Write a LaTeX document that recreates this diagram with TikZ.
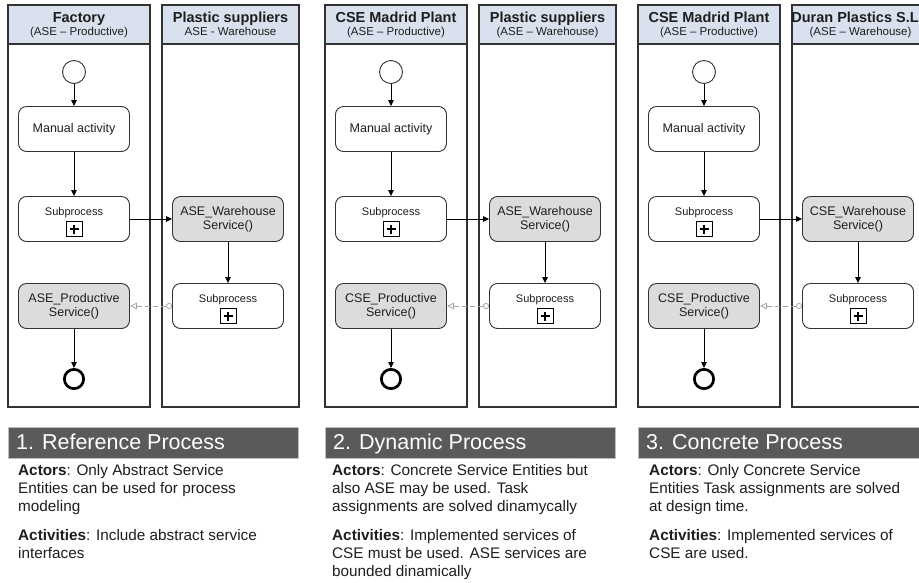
\documentclass[tikz,border=0pt]{standalone}
\usepackage{fontspec}
\setmainfont{Liberation Sans}
\usetikzlibrary{arrows.meta}
\definecolor{hdrc}{HTML}{D9E0EE}
\definecolor{svcc}{HTML}{DCDCDC}
\definecolor{bandc}{HTML}{5A5A5A}
\definecolor{msgc}{HTML}{A5A5A5}
\definecolor{txtc}{HTML}{1E1E1E}
\definecolor{linec}{HTML}{333333}
\tikzset{
  lanebox/.style={draw=linec, line width=1.1pt},
  hdtitle/.style={anchor=base, inner sep=0pt, font=\fontsize{14.5}{16}\selectfont\bfseries, text=txtc},
  hdsub/.style={anchor=base, inner sep=0pt, font=\fontsize{11.5}{13}\selectfont, text=txtc},
  task/.style={draw=linec, rounded corners=8pt, minimum width=111pt, minimum height=45pt,
    line width=0.9pt, align=center, inner sep=0pt, font=\fontsize{12.5}{14}\selectfont, text=txtc, fill=white},
  svctask/.style={task, fill=svcc},
  startev/.style={circle, draw=linec, minimum size=23pt, inner sep=0pt, line width=0.9pt, fill=white},
  endev/.style={circle, draw=black, minimum size=19.3pt, inner sep=0pt, line width=2.7pt},
  sublbl/.style={anchor=base, inner sep=0pt, font=\fontsize{11}{12}\selectfont, text=txtc},
  plusbox/.style={draw=black, line width=0.8pt, minimum width=16pt, minimum height=15pt, inner sep=0pt},
  flow/.style={draw=black, line width=0.8pt, -{Triangle[length=6pt,width=5.5pt]}},
  msgflow/.style={draw=msgc, line width=0.8pt, dash pattern=on 5pt off 3pt,
    {Circle[open,length=6pt,width=6pt]}-{Triangle[open,length=7pt,width=6.5pt]}},
  bandtxt/.style={anchor=base west, inner sep=0pt, text=white, font=\fontsize{21.5}{24}\selectfont},
  bodytxt/.style={anchor=north west, inner sep=0pt, align=left, text=txtc, font=\fontsize{15.3}{17.8}\selectfont},
}
\newcommand\plusmark[1]{%
  \draw[line width=1.6pt] ([xshift=-4.5pt]#1.center) -- ([xshift=4.5pt]#1.center);
  \draw[line width=1.6pt] ([yshift=-4.5pt]#1.center) -- ([yshift=4.5pt]#1.center);}
\newcommand\mypanel[9]{%
 \begin{scope}[xshift=#1pt]
  \fill[hdrc] (8,5) rectangle (150,44);
  \fill[hdrc] (162,5) rectangle (299,44);
  \draw[lanebox] (8,5) rectangle (150,407);
  \draw[lanebox] (8,44) -- (150,44);
  \draw[lanebox] (162,5) rectangle (299,407);
  \draw[lanebox] (162,44) -- (299,44);
  \node[hdtitle] (ht#2a) at (79,22) {#3};
  \node[hdsub] (hs#2a) at (79,35) {#4};
  \node[hdtitle] (ht#2b) at (230.5,22) {#5};
  \node[hdsub] (hs#2b) at (230.5,35) {#6};
  \node[startev] (s#2) at (74,72) {};
  \node[task] (ma#2) at (74,129) {Manual activity};
  \node[task] (sp#2) at (74,219) {};
  \node[sublbl] (spl#2) at (74,215) {Subprocess};
  \node[plusbox] (pb#2) at (74,229) {};
  \plusmark{pb#2}
  \node[svctask] (ws#2) at (228,219) {#7\_Warehouse\\Service()};
  \node[svctask] (ps#2) at (74,306) {#8\_Productive\\Service()};
  \node[task] (sq#2) at (228,306) {};
  \node[sublbl] (sql#2) at (228,302) {Subprocess};
  \node[plusbox] (pq#2) at (228,316) {};
  \plusmark{pq#2}
  \node[endev] (e#2) at (74,379) {};
  \draw[flow] (s#2) -- (ma#2);
  \draw[flow] (ma#2) -- (sp#2);
  \draw[flow] (sp#2) -- (ws#2);
  \draw[flow] (ws#2) -- (sq#2);
  \draw[flow] (ps#2) -- (e#2);
  \draw[msgflow] (sq#2.west) -- (ps#2.east);
  \fill[bandc] (8,427) rectangle (298,458);
  \draw[black!25, line width=0.6pt] (8,427) rectangle (298,458);
  \node[bandtxt] (bt#2) at (16,449.5) {#9};
 \end{scope}}
\begin{document}
\begin{tikzpicture}[x=1pt,y=-1pt]
\useasboundingbox (0,0) rectangle (919,582);
\clip (0,0) rectangle (919,582);
\fill[white] (0,0) rectangle (919,582);
\mypanel{0}{1}{Factory}{(ASE – Productive)}{Plastic suppliers}{ASE - Warehouse}{ASE}{ASE}{1. Reference Process}
\mypanel{317}{2}{CSE Madrid Plant}{(ASE – Productive)}{Plastic suppliers}{(ASE – Warehouse)}{ASE}{CSE}{2. Dynamic Process}
\mypanel{630}{3}{CSE Madrid Plant}{(ASE – Productive)}{\kern-11pt Duran Plastics S.L}{(ASE – Warehouse)}{CSE}{CSE}{3. Concrete Process}
\node[bodytxt] (a1) at (18,464.5) {\textbf{Actors}: Only Abstract Service\\Entities can be used for process\\modeling};
\node[bodytxt] (b1) at (18,529.5) {\textbf{Activities}: Include abstract service\\interfaces};
\node[bodytxt] (a2) at (332,464.5) {\textbf{Actors}: Concrete Service Entities but\\also ASE may be used. Task\\assignments are solved dinamycally};
\node[bodytxt] (b2) at (332,529.5) {\textbf{Activities}: Implemented services of\\CSE must be used. ASE services are\\bounded dinamically};
\node[bodytxt] (a3) at (649,464.5) {\textbf{Actors}: Only Concrete Service\\Entities Task assignments are solved\\at design time.};
\node[bodytxt] (b3) at (649,529.5) {\textbf{Activities}: Implemented services of\\CSE are used.};
\end{tikzpicture}
\end{document}
